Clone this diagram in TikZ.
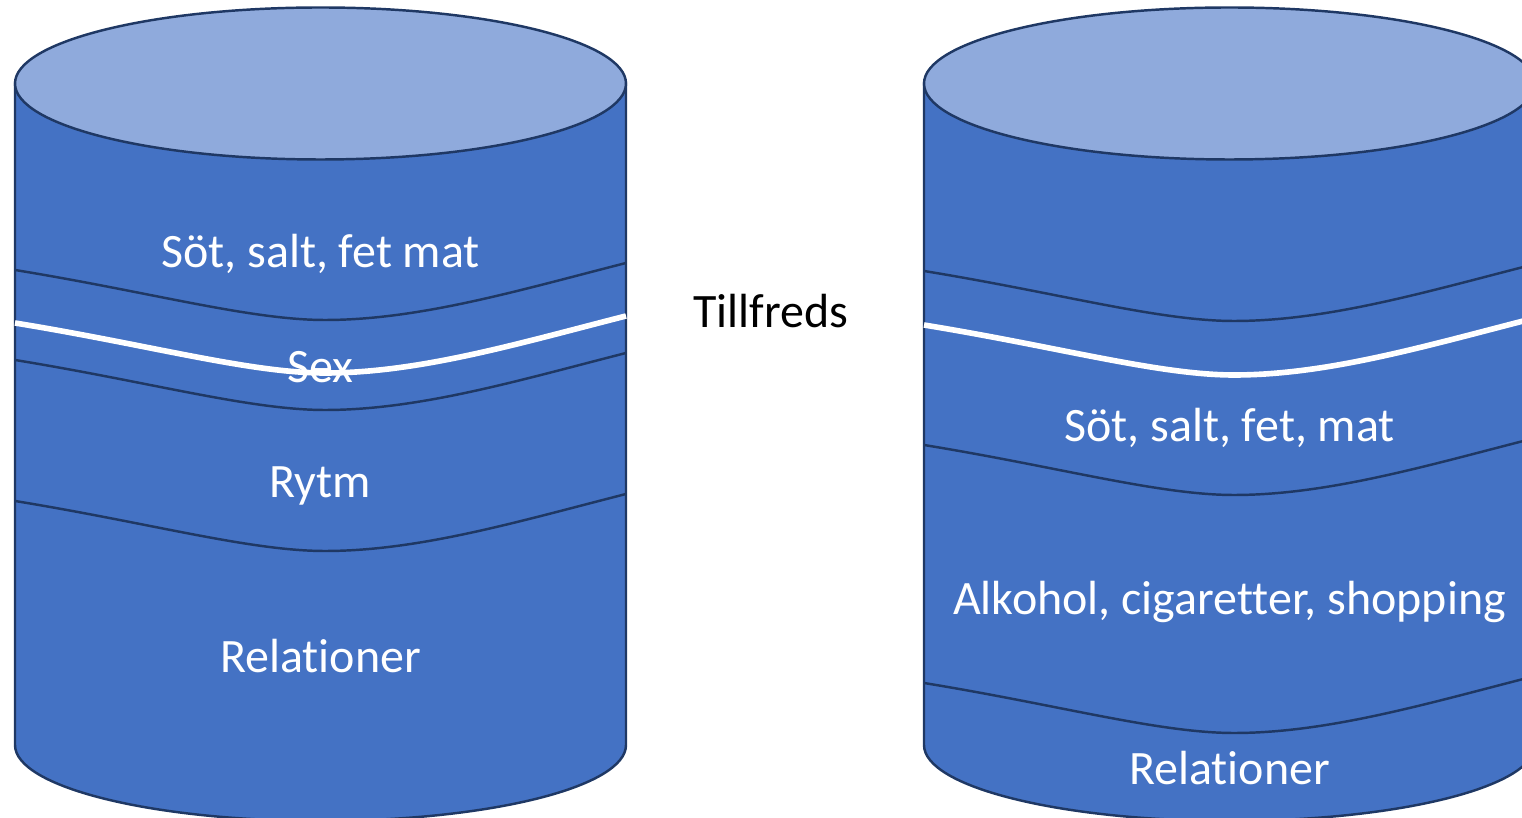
\documentclass[tikz,border=0pt]{standalone}
\usepackage{fontspec}
\setmainfont{Carlito}[Ligatures={NoCommon,NoContextual}]
\usepackage{tikz}
\definecolor{drumblue}{HTML}{4472C4}
\definecolor{lidblue}{HTML}{8FAADC}
\definecolor{rimblue}{HTML}{1F3864}
\tikzstyle{drum} = [fill=drumblue, draw=rimblue, line width=1.4pt]
\tikzstyle{lid} = [fill=lidblue, draw=rimblue, line width=1.4pt]
\tikzstyle{band} = [draw=rimblue, line width=1.4pt]
\tikzstyle{levelline} = [draw=white, line width=3.2pt]
\tikzstyle{drumtext} = [text=white, anchor=base, inner sep=0pt, font=\fontsize{27.3}{32}\selectfont]
\tikzstyle{plaintext} = [text=black, anchor=base, inner sep=0pt, font=\fontsize{27.3}{32}\selectfont]

\begin{document}
\begin{tikzpicture}[x=0.02cm, y=0.02cm]
\useasboundingbox (0,0) rectangle (1522,818);
\clip (0,0) rectangle (1522,818);

% left drum
\path[drum] (15,734.5) -- (15,73) arc[start angle=180, end angle=360, x radius=305.5, y radius=76] -- (626,734.5) -- cycle;
\path[lid] (320.5,734.5) ellipse [x radius=305.5, y radius=76];
\draw[band] (15,548) .. controls +(135,-22) and +(-75,0) .. ++(310,-50) .. controls +(95,0) and +(-106,-27) .. ++(301,57);
\draw[band] (15,458) .. controls +(135,-22) and +(-75,0) .. ++(310,-50) .. controls +(95,0) and +(-106,-27) .. ++(301,57);
\draw[band] (15,317) .. controls +(135,-22) and +(-75,0) .. ++(310,-50) .. controls +(95,0) and +(-106,-27) .. ++(301,57);
\draw[levelline] (15,495) .. controls +(135,-22) and +(-75,0) .. ++(310,-50) .. controls +(95,0) and +(-106,-27) .. ++(301,57);

% right drum
\path[drum] (924,734.5) -- (924,73) arc[start angle=180, end angle=360, x radius=305.5, y radius=76] -- (1535,734.5) -- cycle;
\path[lid] (1229.5,734.5) ellipse [x radius=305.5, y radius=76];
\draw[band] (924,547) .. controls +(135,-22) and +(-75,0) .. ++(310,-50) .. controls +(95,0) and +(-106,-27) .. ++(301,57);
\draw[band] (924,373) .. controls +(135,-22) and +(-75,0) .. ++(310,-50) .. controls +(95,0) and +(-106,-27) .. ++(301,57);
\draw[band] (924,135) .. controls +(135,-22) and +(-75,0) .. ++(310,-50) .. controls +(95,0) and +(-106,-27) .. ++(301,57);
\draw[levelline] (924,493) .. controls +(135,-22) and +(-75,0) .. ++(310,-50) .. controls +(95,0) and +(-106,-27) .. ++(301,57);

\node (food1) [drumtext] at (320.5,550) {Söt, salt, fet mat};
\node (sex) [drumtext] at (320.5,435) {Sex};
\node (rytm) [drumtext] at (320.5,320) {Rytm};
\node (rel1) [drumtext] at (320.5,145) {Relationer};
\node (calm) [plaintext] at (771,490) {Tillfreds};
\node (food2) [drumtext] at (1229.5,376) {Söt, salt, fet, mat};
\node (vices) [drumtext] at (1229.5,203) {Alkohol, cigaretter, shopping};
\node (rel2) [drumtext] at (1229.5,33) {Relationer};
\end{tikzpicture}
\end{document}
